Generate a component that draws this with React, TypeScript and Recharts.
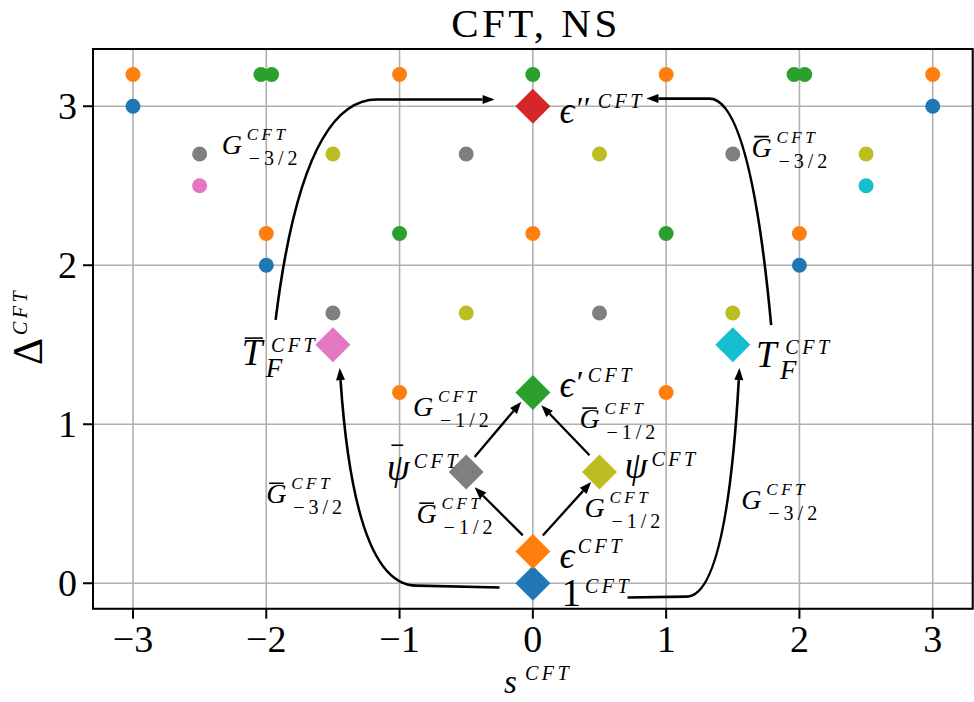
import React from 'react';
import { ScatterChart, Scatter, XAxis, YAxis, CartesianGrid, ReferenceLine, ReferenceArea } from 'recharts';

const TITLE = 'CFT, NS';
const X_LABEL = 's';
const Y_LABEL = 'Δ';
const SUP = 'CFT';
const X_TICKS = [-3, -2, -1, 0, 1, 2, 3];
const Y_TICKS = [0, 1, 2, 3];
const X_DOMAIN: [number, number] = [-3.3, 3.3];
const Y_DOMAIN: [number, number] = [-0.16, 3.36];

// descendant states (circles), grouped by colour family
const blueDots = [{ x: -3, y: 3 }, { x: 3, y: 3 }, { x: -2, y: 2 }, { x: 2, y: 2 }];
const orangeDots = [
  { x: -3, y: 3.2 }, { x: -1, y: 3.2 }, { x: 1, y: 3.2 }, { x: 3, y: 3.2 },
  { x: -2, y: 2.2 }, { x: 0, y: 2.2 }, { x: 2, y: 2.2 }, { x: -1, y: 1.2 }, { x: 1, y: 1.2 },
];
const greenDots = [
  { x: -2.04, y: 3.2 }, { x: -1.96, y: 3.2 }, { x: 0, y: 3.2 }, { x: 1.96, y: 3.2 }, { x: 2.04, y: 3.2 },
  { x: -1, y: 2.2 }, { x: 1, y: 2.2 },
];
const grayDots = [{ x: -2.5, y: 2.7 }, { x: -0.5, y: 2.7 }, { x: 1.5, y: 2.7 }, { x: -1.5, y: 1.7 }, { x: 0.5, y: 1.7 }];
const oliveDots = [{ x: -1.5, y: 2.7 }, { x: 0.5, y: 2.7 }, { x: 2.5, y: 2.7 }, { x: -0.5, y: 1.7 }, { x: 1.5, y: 1.7 }];
const pinkDots = [{ x: -2.5, y: 2.5 }];
const cyanDots = [{ x: 2.5, y: 2.5 }];

// primary states (diamonds)
const primaryS = [0, 0, 0, 0, -0.5, 0.5, -1.5, 1.5];
const primaryDelta = [0, 0.2, 1.2, 3, 0.7, 0.7, 1.5, 1.5];

// state labels (anchored at left/baseline of main glyph, data coords)
const stateLabels = [
  { x: 0.2, y: 2.896, base: 'ϵ', primes: 2, bar: false, sub: '' },
  { x: 0.2, y: 1.17, base: 'ϵ', primes: 1, bar: false, sub: '' },
  { x: 0.2, y: 0.098, base: 'ϵ', primes: 0, bar: false, sub: '' },
  { x: 0.215, y: -0.141, base: '1', primes: 0, bar: false, sub: '' },
  { x: 0.687, y: 0.66, base: 'ψ', primes: 0, bar: false, sub: '' },
  { x: -1.097, y: 0.647, base: 'ψ', primes: 0, bar: true, sub: '' },
  { x: -2.184, y: 1.372, base: 'T', primes: 0, bar: true, sub: 'F' },
  { x: 1.675, y: 1.359, base: 'T', primes: 0, bar: false, sub: 'F' },
];

// ladder operator labels
const ladderLabels = [
  { x: -2.334, y: 2.7, bar: false, sub: '−3/2' },
  { x: 1.64, y: 2.682, bar: true, sub: '−3/2' },
  { x: -0.9, y: 1.053, bar: false, sub: '−1/2' },
  { x: 0.35, y: 0.975, bar: true, sub: '−1/2' },
  { x: -0.872, y: 0.377, bar: true, sub: '−1/2' },
  { x: 0.387, y: 0.414, bar: false, sub: '−1/2' },
  { x: -2.0, y: 0.502, bar: true, sub: '−3/2' },
  { x: 1.564, y: 0.47, bar: false, sub: '−3/2' },
];

// arrows (data coords): QL = quad curve then line, LQ = line then quad curve, L = straight
const arrows: { kind: string; pts: [number, number][] }[] = [
  { kind: 'QL', pts: [[-1.93, 1.656], [-1.726, 3.042], [-1.172, 3.042], [-0.287, 3.042]] },
  { kind: 'QL', pts: [[1.788, 1.624], [1.63, 3.048], [1.324, 3.048], [0.852, 3.048]] },
  { kind: 'LQ', pts: [[-0.25, -0.027], [-0.872, -0.015], [-1.337, -0.015], [-1.449, 1.353]] },
  { kind: 'LQ', pts: [[0.71, -0.09], [1.153, -0.084], [1.453, -0.084], [1.55, 1.353]] },
  { kind: 'L', pts: [[-0.075, 0.301], [-0.437, 0.604]] },
  { kind: 'L', pts: [[0.075, 0.301], [0.438, 0.637]] },
  { kind: 'L', pts: [[-0.437, 0.794], [-0.087, 1.141]] },
  { kind: 'L', pts: [[0.425, 0.805], [0.063, 1.12]] },
];

const C = {
  blue: '#1f77b4', orange: '#ff7f0e', green: '#2ca02c', red: '#d62728',
  pink: '#e377c2', gray: '#7f7f7f', olive: '#bcbd22', cyan: '#17becf',
};
const primaryColors = [C.blue, C.orange, C.green, C.red, C.gray, C.olive, C.pink, C.cyan];
const SERIF = '"Liberation Serif", "DejaVu Serif", serif';

const primaryData = primaryS.map((s, i) => ({ x: s, y: primaryDelta[i], color: primaryColors[i] }));

const fmt = (v: number) => (v < 0 ? '−' + Math.abs(v) : String(v));

function XTick(props: any) {
  const { x, y, payload } = props;
  return (
    <text x={x} y={y + 33} textAnchor="middle" fontFamily={SERIF} fontSize={38} fill="#000">
      {fmt(payload.value)}
    </text>
  );
}
function YTick(props: any) {
  const { x, y, payload } = props;
  return (
    <text x={x - 6} y={y + 13} textAnchor="end" fontFamily={SERIF} fontSize={38} fill="#000">
      {fmt(payload.value)}
    </text>
  );
}

const dotShape = (color: string) => (p: any) => <circle cx={p.cx} cy={p.cy} r={7.5} fill={color} />;

const diamondShape = (p: any) => {
  const h = 17.5;
  const { cx, cy } = p;
  return (
    <polygon
      points={`${cx},${cy - h} ${cx + h},${cy} ${cx},${cy + h} ${cx - h},${cy}`}
      fill={p.payload.color}
    />
  );
};

const ADV: Record<string, number> = { 'ϵ': 0.49, 'ψ': 0.73, T: 0.79, '1': 0.6, G: 0.89 };
const SUPDY: Record<string, number> = { 'ϵ': -15, 'ψ': -12, T: -13, '1': -13, G: -14 };
const BAR: Record<string, [number, number, number]> = {
  'ψ': [0.13, 0.45, -0.95],
  T: [0.08, 0.57, -0.73],
  G: [0.1, 0.62, -0.72],
};

function renderBar(x: number, y: number, base: string, size: number) {
  const b = BAR[base];
  return (
    <line x1={x + b[0] * size} x2={x + b[1] * size} y1={y + b[2] * size} y2={y + b[2] * size} stroke="#000" strokeWidth={1.6} />
  );
}

const stateLabelShape = (p: any) => {
  const { cx, cy, payload } = p;
  const { base, primes, bar, sub } = payload;
  const upright = base === '1';
  const size = upright ? 39 : 37;
  const adv = ADV[base] * size;
  const primeW = primes * 10;
  return (
    <g fontFamily={SERIF} fill="#000">
      <text x={cx} y={cy} fontSize={size} fontStyle={upright ? 'normal' : 'italic'}>{base}</text>
      {bar && renderBar(cx, cy, base, size)}
      {primes > 0 && (
        <text x={cx + adv - 1} y={cy - 4} fontSize={32}>{'′'.repeat(primes)}</text>
      )}
      <text x={cx + adv + primeW} y={cy + SUPDY[base]} fontSize={20} fontStyle="italic" letterSpacing={3.5}>{SUP}</text>
      {sub && (
        <text x={cx + 24} y={cy + 12} fontSize={27} fontStyle="italic">{sub}</text>
      )}
    </g>
  );
};

const ladderLabelShape = (p: any) => {
  const { cx, cy, payload } = p;
  const size = 28;
  return (
    <g fontFamily={SERIF} fill="#000">
      <text x={cx} y={cy} fontSize={size} fontStyle="italic">G</text>
      {payload.bar && renderBar(cx, cy, 'G', size)}
      <text x={cx + 25} y={cy - 14} fontSize={17} fontStyle="italic" letterSpacing={3.5}>{SUP}</text>
      <text x={cx + 27} y={cy + 11} fontSize={20} letterSpacing={4}>{payload.sub}</text>
    </g>
  );
};

const arrowShape = (kind: string, pts: [number, number][]) => (props: any) => {
  const { x1, y1, x2, y2 } = props;
  if ([x1, y1, x2, y2].some((v) => typeof v !== 'number' || isNaN(v))) return <g />;
  const p0 = pts[0];
  const pn = pts[pts.length - 1];
  const sx = (x2 - x1) / (pn[0] - p0[0]);
  const sy = (y2 - y1) / (pn[1] - p0[1]);
  const P = pts.map((p) => [x1 + (p[0] - p0[0]) * sx, y1 + (p[1] - p0[1]) * sy]);
  const n = P.length;
  const tip = P[n - 1];
  const prev = P[n - 2];
  const dx = tip[0] - prev[0];
  const dy = tip[1] - prev[1];
  const len = Math.hypot(dx, dy) || 1;
  const ux = dx / len;
  const uy = dy / len;
  const hl = 12;
  const hw = 4.5;
  const base = [tip[0] - ux * hl, tip[1] - uy * hl];
  let d = '';
  if (kind === 'QL') d = `M${P[0][0]},${P[0][1]} Q${P[1][0]},${P[1][1]} ${P[2][0]},${P[2][1]} L${base[0]},${base[1]}`;
  else if (kind === 'LQ') d = `M${P[0][0]},${P[0][1]} L${P[1][0]},${P[1][1]} Q${P[2][0]},${P[2][1]} ${base[0]},${base[1]}`;
  else d = `M${P[0][0]},${P[0][1]} L${base[0]},${base[1]}`;
  const head = `${tip[0]},${tip[1]} ${base[0] - uy * hw},${base[1] + ux * hw} ${base[0] + uy * hw},${base[1] - ux * hw}`;
  return (
    <g>
      <path d={d} fill="none" stroke="#000" strokeWidth={kind === 'L' ? 2.3 : 2.6} />
      <polygon points={head} fill="#000" />
    </g>
  );
};

export default function App() {
  return (
    <div style={{ position: 'absolute', left: 0, top: 0, width: 974, height: 702, background: '#fff' }}>
      <ScatterChart width={974} height={702} margin={{ top: 49, right: 1.3, left: 33, bottom: 33.3 }}>
        <CartesianGrid stroke="#b0b0b0" strokeWidth={1.6} />
        <XAxis
          type="number"
          dataKey="x"
          domain={X_DOMAIN}
          ticks={X_TICKS}
          allowDataOverflow
          height={60}
          axisLine={false}
          tickSize={10}
          tickMargin={0}
          tickLine={{ stroke: '#000', strokeWidth: 2 }}
          tick={<XTick />}
          interval={0}
        />
        <YAxis
          type="number"
          dataKey="y"
          domain={Y_DOMAIN}
          ticks={Y_TICKS}
          allowDataOverflow
          width={60}
          axisLine={false}
          tickSize={10}
          tickMargin={0}
          tickLine={{ stroke: '#000', strokeWidth: 2 }}
          tick={<YTick />}
          interval={0}
        />
        <ReferenceArea x1={X_DOMAIN[0]} x2={X_DOMAIN[1]} y1={Y_DOMAIN[0]} y2={Y_DOMAIN[1]} fill="none" stroke="#000" strokeWidth={2} ifOverflow="visible" />
        <Scatter data={blueDots} shape={dotShape(C.blue)} isAnimationActive={false} />
        <Scatter data={orangeDots} shape={dotShape(C.orange)} isAnimationActive={false} />
        <Scatter data={greenDots} shape={dotShape(C.green)} isAnimationActive={false} />
        <Scatter data={grayDots} shape={dotShape(C.gray)} isAnimationActive={false} />
        <Scatter data={oliveDots} shape={dotShape(C.olive)} isAnimationActive={false} />
        <Scatter data={pinkDots} shape={dotShape(C.pink)} isAnimationActive={false} />
        <Scatter data={cyanDots} shape={dotShape(C.cyan)} isAnimationActive={false} />
        <Scatter data={primaryData} shape={diamondShape} isAnimationActive={false} />
        <Scatter data={stateLabels} shape={stateLabelShape} isAnimationActive={false} />
        <Scatter data={ladderLabels} shape={ladderLabelShape} isAnimationActive={false} />
        {arrows.map((a, i) => (
          <ReferenceLine
            key={i}
            segment={[{ x: a.pts[0][0], y: a.pts[0][1] }, { x: a.pts[a.pts.length - 1][0], y: a.pts[a.pts.length - 1][1] }]}
            ifOverflow="visible"
            shape={arrowShape(a.kind, a.pts)}
          />
        ))}
      </ScatterChart>
      <svg width={974} height={702} style={{ position: 'absolute', left: 0, top: 0, pointerEvents: 'none' }}>
        <g fontFamily={SERIF} fill="#000">
          <text x={536} y={37} textAnchor="middle" fontSize={41} letterSpacing={3.5}>{TITLE}</text>
          <text x={504} y={693} fontSize={33} fontStyle="italic">{X_LABEL}</text>
          <text x={525} y={680} fontSize={20} fontStyle="italic" letterSpacing={3.5}>{SUP}</text>
          <g transform="rotate(-90, 42, 365)">
            <text x={42} y={365} fontSize={42}>{Y_LABEL}</text>
            <text x={72} y={350} fontSize={20} fontStyle="italic" letterSpacing={3.5}>{SUP}</text>
          </g>
        </g>
      </svg>
    </div>
  );
}
